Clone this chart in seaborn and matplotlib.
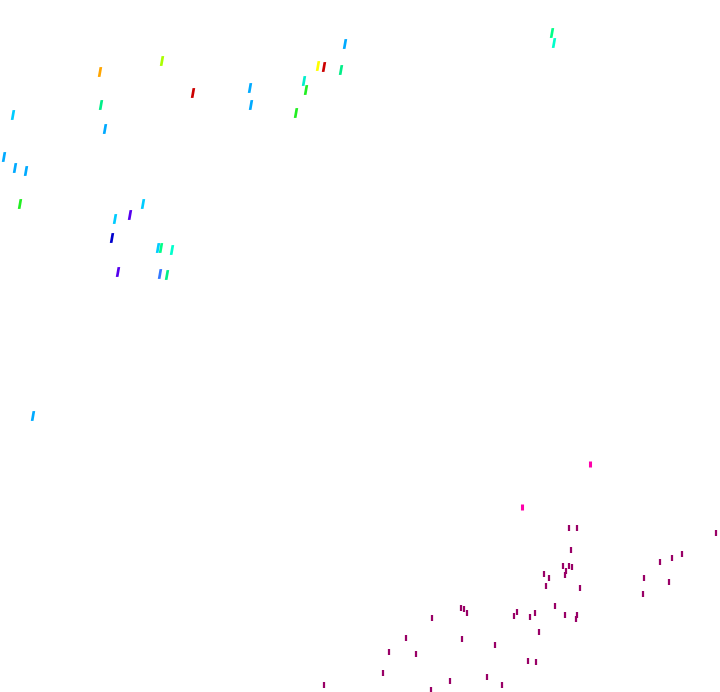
import matplotlib
matplotlib.use('Agg')
import matplotlib.pyplot as plt
import seaborn as sns

# upper group: scattered coloured marks
top_x = [13, 100, 162, 193, 101, 105, 250, 251, 345, 318, 324, 341, 304, 306, 296,
         552, 554, 4, 15, 26, 20, 143, 130, 115, 112, 158, 161, 172, 118, 160, 167, 33]
top_y = [115, 72, 61, 93, 105, 129, 88, 105, 44, 66, 67, 70, 81, 90, 113,
         33, 43, 157, 168, 171, 204, 204, 215, 219, 238, 248, 248, 250, 272, 274, 275, 416]
top_color = ['#00ccff', '#ffa500', '#aaff00', '#cc0000', '#00ee88', '#00aaff', '#00aaff',
             '#00aaff', '#00aaff', '#ffff00', '#cc0000', '#00ee88', '#00eecc', '#22ee22',
             '#22ee22', '#00ff88', '#00ffcc', '#00aaff', '#00aaff', '#00aaff', '#22ee22',
             '#00ccff', '#5500ee', '#00ccff', '#0000cc', '#00ccff', '#00ff88', '#00ffcc',
             '#5500ee', '#3377ff', '#00ee88', '#00aaff']

# lower group: magenta ticks
low_x = [569, 577, 716, 571, 682, 660, 672, 563, 569, 572, 566, 565, 544, 549, 644, 669,
         546, 580, 643, 555, 461, 464, 467, 432, 517, 514, 535, 530, 565, 577, 576, 539,
         406, 462, 495, 389, 416, 528, 536, 383, 487, 450, 502, 431, 324]
low_y = [528, 528, 533, 550, 554, 562, 558, 566, 566, 567, 571, 575, 574, 578, 578, 582,
         586, 588, 594, 606, 608, 609, 613, 618, 612, 616, 613, 617, 615, 615, 619, 632,
         638, 639, 645, 652, 654, 661, 662, 673, 677, 681, 685, 690, 685]
pink_x = [590, 522]
pink_y = [464, 507]

# slanted stroke used for the upper marks
slash = [(-0.45, -1.0), (0.1, -1.0), (0.45, 1.0), (-0.1, 1.0)]

fig = plt.figure(figsize=(7.2, 6.92), dpi=100)
ax = fig.add_axes([0, 0, 1, 1])

sns.scatterplot(x=top_x, y=top_y, hue=top_color, palette={c: c for c in top_color},
                marker=slash, s=50, linewidth=0, legend=False, ax=ax)
sns.scatterplot(x=low_x, y=low_y, color='#990066', marker='|', s=20,
                linewidth=1.6, legend=False, ax=ax)
sns.scatterplot(x=pink_x, y=pink_y, color='#ff00aa', marker='|', s=24,
                linewidth=2.2, legend=False, ax=ax)

ax.set_xlim(0, 720)
ax.set_ylim(692, 0)
ax.axis('off')

plt.savefig('out.png', dpi=100, facecolor='white')
plt.close()
